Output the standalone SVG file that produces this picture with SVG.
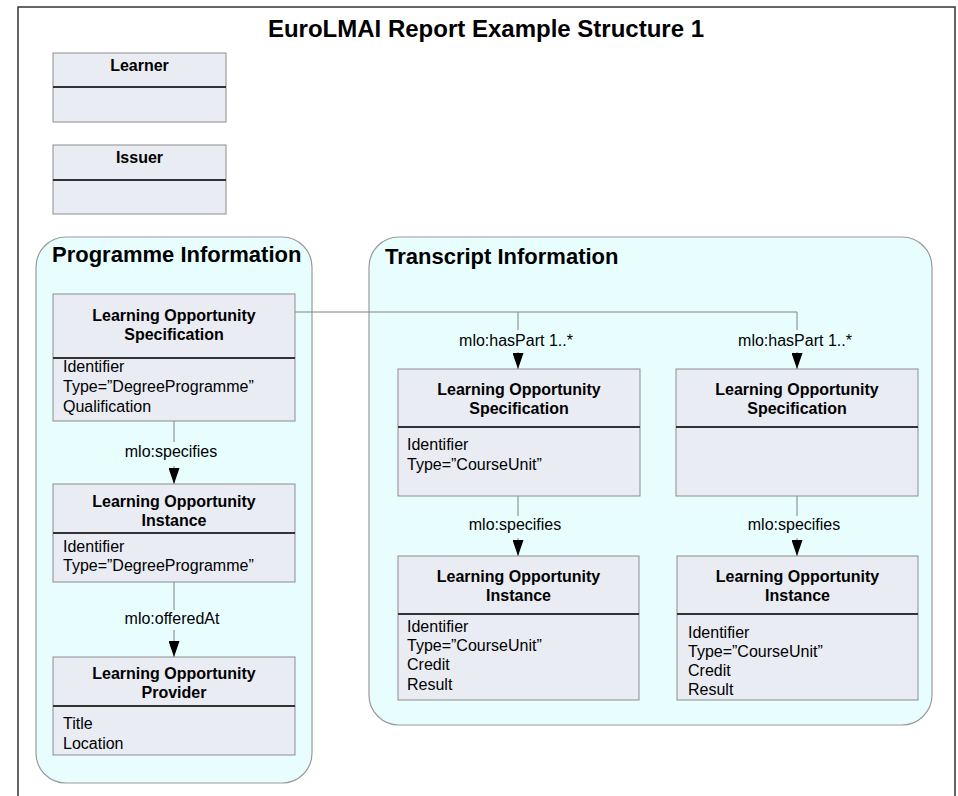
<svg xmlns="http://www.w3.org/2000/svg" width="958" height="796" viewBox="0 0 958 796">
<defs>
<marker id="arr" markerUnits="userSpaceOnUse" markerWidth="16" markerHeight="11" refX="16" refY="5.5" orient="auto" viewBox="0 0 16 11">
<path d="M0,0 L16,5.5 L0,11 Z" fill="#000"/>
</marker>
<style>
.frame{fill:#fff;stroke:#333;stroke-width:1.5}
.cont{fill:#e8fefe;stroke:#9a9a9a;stroke-width:1.2}
.box{fill:#eaecf4;stroke:#8c8c8c;stroke-width:1}
.div{stroke:#333;stroke-width:2}
.t{font-family:"Liberation Sans",Arial,sans-serif;fill:#000}
.h{font-size:16px;font-weight:bold;text-anchor:middle}
.a{font-size:16px}
.lbl{font-size:16px;text-anchor:middle}
.ct{font-size:22px;font-weight:bold}
.line{stroke:#808080;stroke-width:1;fill:none}
.arrow{stroke:#808080;stroke-width:1;fill:none;marker-end:url(#arr)}
.lbg{fill:#e8fefe}
</style>
</defs>
<rect class="frame" x="18" y="7" width="937" height="800"/>
<text class="t" x="486" y="37" font-size="24" font-weight="bold" text-anchor="middle">EuroLMAI Report Example Structure 1</text>

<g id="learner">
<rect class="box" x="53" y="53" width="173" height="69"/>
<line class="div" x1="53" y1="87" x2="226" y2="87"/>
<text class="t h" x="139.5" y="71">Learner</text>
</g>
<g id="issuer">
<rect class="box" x="53" y="145" width="173" height="69"/>
<line class="div" x1="53" y1="180" x2="226" y2="180"/>
<text class="t h" x="139.5" y="163">Issuer</text>
</g>

<g id="programme-information">
<rect class="cont" x="36" y="237" width="276" height="546" rx="30" ry="30"/>
<text class="t ct" x="52" y="262">Programme Information</text>
</g>
<g id="transcript-information">
<rect class="cont" x="369" y="237" width="563" height="488" rx="30" ry="30"/>
<text class="t ct" x="385" y="264">Transcript Information</text>
</g>

<g id="connectors">
<path class="line" d="M295,312 H797"/>
<path class="arrow" d="M518,312 V369"/>
<path class="arrow" d="M797,312 V369"/>
<rect class="lbg" x="456" y="330" width="120" height="22"/>
<text class="t lbl" x="516" y="346">mlo:hasPart 1..*</text>
<rect class="lbg" x="735" y="330" width="120" height="22"/>
<text class="t lbl" x="795" y="346">mlo:hasPart 1..*</text>

<path class="arrow" d="M174,421 V484"/>
<rect class="lbg" x="124" y="442" width="100" height="24"/>
<text class="t lbl" x="171" y="457">mlo:specifies</text>

<path class="arrow" d="M174,582 V657"/>
<rect class="lbg" x="120" y="610" width="108" height="20"/>
<text class="t lbl" x="172" y="624">mlo:offeredAt</text>

<path class="arrow" d="M518,496 V556"/>
<rect class="lbg" x="468" y="516" width="100" height="22"/>
<text class="t lbl" x="515" y="530">mlo:specifies</text>

<path class="arrow" d="M797,496 V556"/>
<rect class="lbg" x="747" y="516" width="100" height="22"/>
<text class="t lbl" x="794" y="530">mlo:specifies</text>
</g>

<g id="prog-los">
<rect class="box" x="53" y="294" width="242" height="127"/>
<line class="div" x1="53" y1="358" x2="295" y2="358"/>
<text class="t h" x="174" y="321">Learning Opportunity</text>
<text class="t h" x="174" y="340">Specification</text>
<text class="t a" x="63" y="372">Identifier</text>
<text class="t a" x="63" y="392">Type=”DegreeProgramme”</text>
<text class="t a" x="63" y="412">Qualification</text>
</g>

<g id="prog-loi">
<rect class="box" x="53" y="484" width="242" height="98"/>
<line class="div" x1="53" y1="533" x2="295" y2="533"/>
<text class="t h" x="174" y="507">Learning Opportunity</text>
<text class="t h" x="174" y="526">Instance</text>
<text class="t a" x="63" y="552">Identifier</text>
<text class="t a" x="63" y="571">Type=”DegreeProgramme”</text>
</g>

<g id="prog-lop">
<rect class="box" x="53" y="657" width="242" height="98"/>
<line class="div" x1="53" y1="706" x2="295" y2="706"/>
<text class="t h" x="174" y="679">Learning Opportunity</text>
<text class="t h" x="174" y="698">Provider</text>
<text class="t a" x="63" y="729">Title</text>
<text class="t a" x="63" y="749">Location</text>
</g>

<g id="trans-los-1">
<rect class="box" x="398" y="369" width="242" height="127"/>
<line class="div" x1="398" y1="427" x2="640" y2="427"/>
<text class="t h" x="519" y="395">Learning Opportunity</text>
<text class="t h" x="519" y="414">Specification</text>
<text class="t a" x="407" y="450">Identifier</text>
<text class="t a" x="407" y="470">Type=”CourseUnit”</text>
</g>

<g id="trans-los-2">
<rect class="box" x="676" y="369" width="242" height="127"/>
<line class="div" x1="676" y1="427" x2="918" y2="427"/>
<text class="t h" x="797" y="395">Learning Opportunity</text>
<text class="t h" x="797" y="414">Specification</text>
</g>

<g id="trans-loi-1">
<rect class="box" x="398" y="556" width="241" height="144"/>
<line class="div" x1="398" y1="614" x2="639" y2="614"/>
<text class="t h" x="518.5" y="582">Learning Opportunity</text>
<text class="t h" x="518.5" y="601">Instance</text>
<text class="t a" x="407" y="632">Identifier</text>
<text class="t a" x="407" y="651">Type=”CourseUnit”</text>
<text class="t a" x="407" y="670">Credit</text>
<text class="t a" x="407" y="690">Result</text>
</g>

<g id="trans-loi-2">
<rect class="box" x="677" y="556" width="241" height="144"/>
<line class="div" x1="677" y1="614" x2="918" y2="614"/>
<text class="t h" x="797.5" y="582">Learning Opportunity</text>
<text class="t h" x="797.5" y="601">Instance</text>
<text class="t a" x="688" y="638">Identifier</text>
<text class="t a" x="688" y="657">Type=”CourseUnit”</text>
<text class="t a" x="688" y="676">Credit</text>
<text class="t a" x="688" y="695">Result</text>
</g>
</svg>
